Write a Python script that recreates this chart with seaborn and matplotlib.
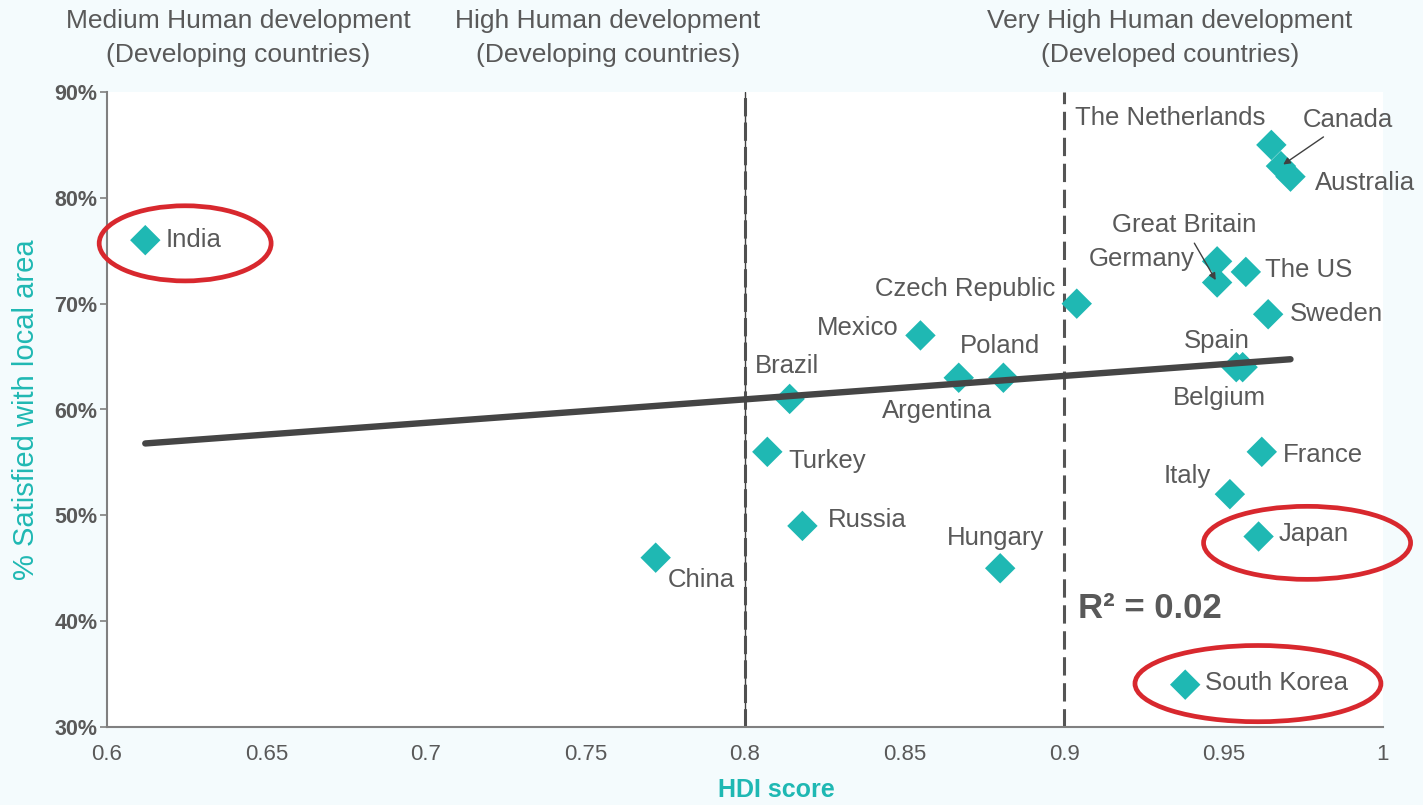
import matplotlib
matplotlib.use("Agg")
import matplotlib.pyplot as plt
from matplotlib.patches import Ellipse
import seaborn as sns
import pandas as pd

# ---------------- data ----------------
countries = ["India", "China", "Brazil", "Turkey", "Russia", "Mexico", "Argentina",
             "Poland", "Hungary", "Czech Republic", "The Netherlands", "Canada",
             "Australia", "Germany", "Great Britain", "The US", "Sweden", "Spain",
             "Belgium", "France", "Italy", "Japan", "South Korea"]
hdi = [0.612, 0.772, 0.814, 0.807, 0.818, 0.855, 0.867,
       0.881, 0.880, 0.904, 0.965, 0.968,
       0.971, 0.948, 0.948, 0.957, 0.964, 0.954,
       0.956, 0.962, 0.952, 0.961, 0.938]
satisfied = [76, 46, 61, 56, 49, 67, 63,
             63, 45, 70, 85, 83,
             82, 74, 72, 73, 69, 64,
             64, 56, 52, 48, 34]
x_ticks = [0.6, 0.65, 0.7, 0.75, 0.8, 0.85, 0.9, 0.95, 1.0]
x_tick_labels = ["0.6", "0.65", "0.7", "0.75", "0.8", "0.85", "0.9", "0.95", "1"]
y_ticks = [30, 40, 50, 60, 70, 80, 90]
y_tick_labels = ["30%", "40%", "50%", "60%", "70%", "80%", "90%"]
group_titles = ["Medium Human development\n(Developing countries)",
                "High Human development\n(Developing countries)",
                "Very High Human development\n(Developed countries)"]
group_bounds = [0.8, 0.9]
highlighted = ["India", "Japan", "South Korea"]
r2_text = "R² = 0.02"

df = pd.DataFrame({"country": countries, "hdi": hdi, "sat": satisfied})

# ---------------- style ----------------
TEAL = "#1fb8b3"
GREY = "#595959"
RED = "#d8282e"
BG = "#f4fbfd"

sns.set_theme(style="white")
plt.rcParams["font.family"] = ["Liberation Sans", "DejaVu Sans"]

fig = plt.figure(figsize=(14.23, 8.05), dpi=100, facecolor=BG)
ax = fig.add_axes([107 / 1423, 1 - 727 / 805, (1383 - 107) / 1423, (727 - 92) / 805])
ax.set_facecolor("white")

sns.scatterplot(data=df, x="hdi", y="sat", marker="D", s=240, color=TEAL,
                edgecolor="none", linewidth=0, ax=ax, zorder=2)
sns.regplot(data=df, x="hdi", y="sat", scatter=False, ci=None, truncate=True,
            line_kws=dict(color="#454545", lw=4.6, solid_capstyle="round", zorder=3),
            ax=ax)

# group boundaries
ax.axvline(group_bounds[0], color="#404040", lw=1.0, zorder=1)
ax.axvline(group_bounds[0], color="#505050", lw=2.2, ls=(0, (6, 2)), zorder=1)
ax.axvline(group_bounds[1], color="#555555", lw=2.2, ls=(0, (6, 2.5)), zorder=1)

ax.set_xlim(0.6, 1.0)
ax.set_ylim(30, 90)
ax.set_xticks(x_ticks)
ax.set_xticklabels(x_tick_labels, fontsize=16, color=GREY)
ax.set_yticks(y_ticks)
ax.set_yticklabels(y_tick_labels, fontsize=15.5, color=GREY, fontweight="bold")
ax.tick_params(axis="y", direction="out", length=5, width=1.2, color="#808080", pad=2, left=True)
ax.tick_params(axis="x", length=0, pad=12)
for side in ["top", "right"]:
    ax.spines[side].set_visible(False)
for side in ["left", "bottom"]:
    ax.spines[side].set_color("#808080")
    ax.spines[side].set_linewidth(1.5)
ax.set_xlabel("")
ax.set_ylabel("% Satisfied with local area", fontsize=21, color=TEAL, labelpad=10)
fig.text(776 / 1423, 1 - 790 / 805, "HDI score", fontsize=18, color=TEAL, fontweight="bold",
         ha="center", va="center")

# labels: (dx, dy) pixel offsets, ha
label_pos = {
    "India": (20, 0, "left"),
    "China": (12, -22, "left"),
    "Brazil": (-3, 33, "center"),
    "Turkey": (21, -9, "left"),
    "Russia": (25, 6, "left"),
    "Mexico": (-22, 7, "right"),
    "Argentina": (-22, -33, "center"),
    "Poland": (-3, 32, "center"),
    "Hungary": (-5, 30, "center"),
    "Czech Republic": (-22, 15, "right"),
    "The Netherlands": (-6, 27, "right"),
    "Australia": (24, -6, "left"),
    "Germany": (-22, 2, "right"),
    "The US": (19, 2, "left"),
    "Sweden": (22, 0, "left"),
    "Spain": (-19, 26, "center"),
    "Belgium": (-23, -31, "center"),
    "France": (21, -3, "left"),
    "Italy": (-19, 18, "right"),
    "Japan": (20, 3, "left"),
    "South Korea": (20, 2, "left"),
}
LABEL_FS = 18.5
for c, x, y in zip(countries, hdi, satisfied):
    if c in label_pos:
        dx, dy, ha = label_pos[c]
        ax.annotate(c, (x, y), xytext=(dx, dy), textcoords="offset pixels",
                    ha=ha, va="center", fontsize=LABEL_FS, color=GREY, zorder=5)

arrow_labels = {"Canada": (22, 46, "left"), "Great Britain": (-33, 57, "center")}
for c, x, y in zip(countries, hdi, satisfied):
    if c in arrow_labels:
        dx, dy, ha = arrow_labels[c]
        ax.annotate(c, (x, y), xytext=(dx, dy), textcoords="offset pixels",
                    ha=ha, va="center", fontsize=LABEL_FS, color=GREY, zorder=5,
                    arrowprops=dict(arrowstyle="-|>", color="#404040", lw=1.0,
                                    mutation_scale=10, shrinkA=2, shrinkB=2))

# highlight ellipses (centre x, centre y, width, height in data units)
ellipse_geom = {
    "India": (0.6245, 75.7, 0.0539, 7.1),
    "Japan": (0.9762, 47.4, 0.0649, 6.9),
    "South Korea": (0.9608, 34.1, 0.0771, 7.2),
}
for c in highlighted:
    cx, cy, w, h = ellipse_geom[c]
    ax.add_patch(Ellipse((cx, cy), w, h, fill=False, edgecolor=RED, lw=3.4,
                         clip_on=False, zorder=6))

ax.text(0.9044, 41.2, r2_text, fontsize=25, fontweight="bold", color=GREY,
        ha="left", va="center", zorder=5)

# group titles
title_x = [238, 608, 1170]
for tx, t in zip(title_x, group_titles):
    fig.text(tx / 1423, 1 - 38 / 805, t, fontsize=19, color=GREY, ha="center",
             va="center", linespacing=1.55)

fig.savefig("out.png", dpi=100, facecolor=BG)
